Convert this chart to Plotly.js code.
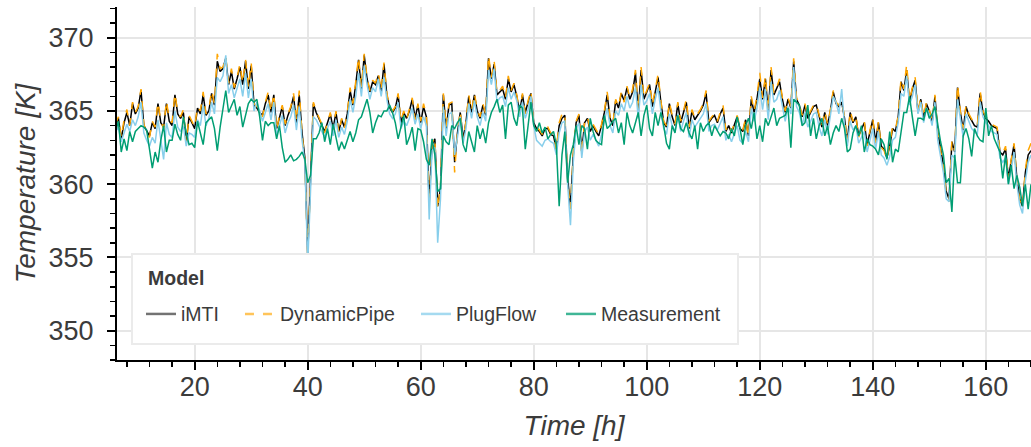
<!DOCTYPE html>
<html>
<head>
<meta charset="utf-8">
<script src="https://cdn.plot.ly/plotly-3.0.1.min.js"></script>
<style>html,body{margin:0;padding:0;background:#fff;}#chart{width:1031px;height:447px;}</style>
</head>
<body>
<div id="chart"></div>
<script>
// Time axis: half-hourly samples starting at 6 h
const tStart = 6.0;
const tStep = 0.5;

const seriesNames = ['iMTI', 'DynamicPipe', 'PlugFlow', 'Measurement'];

const iMTI = [
364.0,364.5,363.1,364.2,364.9,364.0,365.5,364.8,365.2,366.4,
364.0,363.6,363.3,364.2,363.8,365.5,364.2,363.9,365.5,364.3,
364.0,366.1,364.8,364.5,364.9,362.9,364.6,364.2,363.8,365.2,
364.8,366.1,364.7,365.0,366.2,365.4,368.4,367.7,367.9,368.6,
366.8,367.7,366.5,367.2,368.0,366.8,368.4,366.5,368.1,365.4,
365.2,364.9,364.7,365.5,366.1,364.9,366.1,363.8,364.6,365.3,
364.0,364.7,365.2,366.0,364.2,366.1,363.5,361.8,355.2,360.4,
365.5,364.9,364.5,364.0,363.6,364.2,364.8,363.8,364.9,363.6,
364.4,363.9,364.8,366.4,365.4,366.8,368.5,366.5,368.8,367.2,
366.3,367.0,366.8,367.4,366.3,368.2,366.1,365.2,364.9,365.2,
366.1,364.2,364.9,364.5,365.0,365.8,364.5,365.4,364.2,365.3,
364.6,358.8,362.7,363.1,358.5,359.7,366.1,363.8,365.4,365.5,
361.5,363.5,364.9,363.1,364.2,366.0,364.9,366.1,365.0,364.5,
365.4,364.7,368.6,367.2,368.2,366.1,366.3,366.5,365.8,367.2,
366.3,366.8,366.0,364.9,366.1,364.9,365.6,366.2,364.2,363.8,
363.6,363.3,363.8,363.8,363.4,363.3,362.4,364.0,364.5,364.7,
360.4,358.5,362.0,364.2,364.7,362.2,364.2,364.5,363.6,364.0,
363.6,363.3,364.0,364.9,366.1,364.5,364.0,365.7,365.2,366.2,
365.7,366.6,365.8,366.3,367.6,364.9,367.8,365.8,366.3,366.8,
365.3,366.3,367.3,365.6,364.2,363.9,365.5,364.6,364.0,365.5,
364.2,364.9,365.6,363.8,365.0,364.4,364.7,365.0,365.4,366.2,
364.2,364.5,364.7,364.2,364.8,365.2,363.6,364.0,363.5,364.1,
364.6,363.8,363.6,364.4,363.3,365.8,364.9,365.8,367.2,365.8,
367.2,364.9,367.8,366.1,366.5,367.0,365.8,364.9,365.8,365.2,
368.4,365.8,365.4,364.6,365.4,364.5,364.9,365.3,365.4,364.6,
363.9,364.9,364.0,365.0,366.3,365.5,365.3,365.6,364.5,362.9,
364.9,364.2,364.6,363.3,363.8,364.2,362.7,363.6,364.4,362.9,
364.2,362.6,362.4,361.8,362.6,363.8,363.6,364.6,367.0,366.4,
367.8,365.6,366.5,367.1,364.9,365.8,364.5,365.5,365.0,364.2,
366.0,363.6,362.4,361.3,359.5,359.0,362.9,362.2,366.6,364.9,
363.7,365.3,364.7,364.3,364.0,363.9,366.2,364.9,364.5,364.3,
364.0,363.9,363.8,362.2,362.0,362.4,360.4,361.6,362.7,360.4,
359.0,358.5,360.8,362.0,362.3
];

const dynamicPipe = [
364.1,364.6,363.2,364.4,365.1,364.0,365.6,364.9,365.3,366.5,
364.1,363.5,363.2,364.3,363.9,365.6,364.3,363.8,365.7,364.4,
364.2,366.2,364.9,364.6,365.1,362.8,364.7,364.3,363.9,365.3,
365.0,366.3,364.8,365.1,366.4,365.5,368.9,367.9,368.0,368.7,
366.9,367.9,366.6,367.3,368.2,366.9,368.5,366.6,368.3,365.5,
365.3,364.8,364.6,365.6,366.3,364.9,366.2,363.7,364.7,365.4,
364.1,364.8,365.3,366.2,364.3,366.4,363.4,361.6,355.0,360.3,
365.6,365.0,364.6,364.1,363.5,364.3,364.9,363.7,365.0,363.5,
364.5,363.8,364.9,366.6,365.5,367.0,368.7,366.6,368.9,367.3,
366.4,367.1,366.9,367.6,366.4,368.3,366.2,365.3,365.0,365.3,
366.2,364.3,365.0,364.4,365.1,365.9,364.4,365.5,364.3,365.5,
364.7,358.6,362.8,363.2,358.3,359.8,366.2,363.9,365.5,365.6,
360.8,363.6,365.0,363.0,364.3,366.1,365.0,366.2,365.1,364.6,
365.5,364.8,368.8,367.3,368.4,366.2,366.4,366.7,365.9,367.4,
366.4,366.9,366.1,364.8,366.2,364.8,365.7,366.4,364.1,363.9,
363.7,363.4,363.9,363.9,363.5,363.4,362.3,364.2,364.8,364.9,
360.2,358.3,362.1,364.3,364.8,362.0,364.3,364.6,363.7,364.1,
363.7,363.4,364.1,365.0,366.3,364.6,364.1,365.8,365.3,366.3,
365.6,366.7,365.9,366.5,367.8,365.0,368.0,365.9,366.4,366.9,
365.4,366.4,367.5,365.7,364.3,364.0,365.6,364.7,364.1,365.6,
364.3,365.0,365.8,363.9,365.1,364.5,364.8,365.1,365.5,366.4,
364.3,364.6,364.8,364.3,364.9,365.4,363.7,364.1,363.6,364.2,
364.7,363.9,363.7,364.5,363.2,366.0,365.0,366.0,367.6,365.9,
367.4,365.0,368.0,366.2,366.6,367.2,365.9,365.0,365.9,365.3,
368.6,365.9,365.5,364.7,365.5,364.6,365.0,365.4,365.5,364.7,
364.0,365.0,364.1,365.1,366.4,365.6,365.4,365.7,364.6,362.8,
365.0,364.3,364.7,363.2,363.9,364.3,362.6,363.7,364.5,362.8,
364.3,362.5,362.3,361.7,362.7,363.9,363.7,364.7,367.2,366.5,
368.2,365.7,366.6,367.3,365.0,365.9,364.6,365.6,365.1,364.3,
366.1,363.5,362.3,361.2,359.3,358.8,363.0,362.3,366.8,365.0,
363.8,365.4,364.8,364.4,364.1,364.0,366.4,365.0,364.6,364.4,
364.1,364.0,363.9,362.3,362.1,362.6,360.3,361.7,362.8,360.3,
358.9,358.4,361.0,362.3,362.8
];

const plugFlow = [
363.6,363.9,362.9,363.5,364.1,363.6,364.4,364.0,364.6,365.6,
363.5,363.0,362.6,363.2,362.8,364.4,363.0,361.7,364.2,363.4,
363.2,365.0,363.9,363.6,364.0,362.6,363.5,363.4,363.2,364.4,
364.0,365.4,364.0,364.5,365.6,364.8,367.3,367.0,367.4,368.8,
366.2,366.8,365.9,366.5,367.2,366.0,367.6,365.9,367.2,365.0,
365.6,365.0,364.3,364.9,365.5,364.4,365.6,363.3,364.0,364.7,
363.5,364.2,364.6,365.4,363.7,365.3,363.0,361.5,354.5,360.0,
364.6,364.4,364.0,363.5,363.2,363.8,364.3,363.3,364.4,363.2,
363.9,363.4,364.3,365.8,364.9,366.0,367.6,366.0,368.1,366.8,
365.8,366.6,366.3,367.2,366.0,367.3,365.8,364.8,364.5,364.8,
365.6,363.8,364.3,364.0,364.5,365.2,364.1,364.8,363.8,364.6,
364.0,357.6,362.3,362.5,356.0,359.0,365.3,363.3,364.8,364.9,
362.0,363.2,364.6,362.8,363.8,365.5,364.5,365.7,364.6,364.0,
364.9,364.3,367.8,366.8,367.9,365.6,365.9,366.0,365.3,366.6,
365.8,366.3,365.7,364.6,365.6,364.5,365.1,366.0,364.0,363.0,
362.8,362.6,363.0,363.1,362.9,362.8,362.0,363.5,364.2,364.3,
360.0,357.2,361.5,363.8,364.2,361.8,363.6,363.9,363.0,363.4,
363.0,362.6,363.4,364.3,365.2,364.0,363.5,365.0,364.7,365.5,
365.0,366.0,365.2,365.6,366.6,364.5,366.8,365.4,365.7,366.2,
364.8,365.8,366.6,365.0,363.8,363.4,364.8,364.0,363.6,364.8,
363.6,364.3,364.9,363.2,364.4,363.9,364.2,364.5,364.8,365.5,
363.6,364.0,364.1,363.7,364.2,364.6,363.0,363.4,362.9,363.5,
364.0,363.0,362.8,363.6,362.9,365.2,364.3,365.2,366.6,365.1,
366.5,364.4,367.0,365.6,365.8,366.4,365.2,364.3,365.3,364.8,
368.0,365.3,364.9,364.0,364.9,363.9,364.3,364.8,364.9,363.9,
363.3,364.4,363.4,364.6,366.0,365.6,364.8,366.5,364.0,362.6,
364.3,363.7,364.0,362.8,363.2,363.6,362.2,363.0,363.8,362.4,
363.6,362.0,361.8,361.3,361.9,363.0,363.2,364.2,366.2,366.0,
367.4,365.4,366.0,366.8,364.8,365.6,364.2,365.2,364.8,364.0,
365.6,363.0,361.8,360.8,359.0,358.8,362.0,361.8,365.8,364.5,
363.2,364.8,364.3,363.8,363.6,363.4,365.6,364.6,364.2,364.0,
363.6,363.5,363.4,361.8,361.5,361.8,360.0,361.0,362.2,360.0,
358.6,358.0,360.2,361.5,362.0
];

const measurement = [
363.6,364.3,362.2,363.1,362.3,363.6,362.9,363.6,363.8,364.0,
363.9,363.7,362.4,361.1,362.2,361.5,363.0,364.0,362.2,363.0,
363.0,364.1,363.4,363.0,364.6,363.5,362.7,362.8,362.5,364.3,
363.5,362.7,364.2,364.4,364.6,363.8,362.3,363.9,365.0,366.4,
364.9,365.4,365.8,364.7,365.3,363.9,364.8,365.5,365.8,365.6,
365.8,364.6,363.0,364.3,364.0,364.2,364.2,363.1,364.0,362.5,
361.5,361.7,362.0,361.6,361.7,361.9,362.2,361.7,360.1,360.6,
363.1,363.1,363.5,364.2,362.9,363.8,362.7,364.1,363.2,362.3,
362.9,362.4,363.0,363.6,362.9,363.5,364.4,364.6,365.2,365.8,
364.9,363.5,364.2,364.7,364.6,365.0,365.0,365.4,364.9,364.2,
363.1,364.0,364.7,362.7,363.2,363.9,362.3,363.8,363.7,362.9,
361.7,361.3,363.1,362.0,359.5,359.7,363.3,362.9,362.7,364.0,
363.8,364.2,364.5,362.7,362.2,363.6,362.8,362.2,364.0,363.1,
363.8,362.8,364.2,364.9,365.3,365.8,364.9,365.4,363.1,365.4,
365.6,364.5,364.0,365.4,365.2,362.4,364.0,365.6,364.0,363.6,
364.2,363.5,363.9,363.1,363.4,363.6,362.7,358.5,362.0,363.6,
360.1,362.0,362.7,364.0,362.7,364.0,363.8,362.4,364.5,363.6,
363.0,362.8,362.7,364.7,363.8,364.0,364.3,364.5,363.5,364.2,
362.7,364.9,364.0,363.5,364.2,364.9,363.3,364.7,365.4,363.8,
363.3,364.9,364.0,364.9,364.0,362.8,362.4,364.0,363.5,364.7,
363.8,363.6,364.2,363.5,363.1,364.0,362.4,364.2,363.6,364.0,
364.2,363.3,364.0,363.6,363.3,363.6,363.5,363.1,363.8,363.3,
364.6,363.8,362.7,364.0,364.5,363.8,364.9,363.1,364.0,362.9,
364.5,364.0,364.6,365.2,364.0,364.5,364.6,364.7,365.2,362.5,
365.8,365.6,365.4,364.0,364.2,365.4,363.3,364.5,363.1,364.0,
364.5,363.3,364.0,362.7,363.5,364.0,363.6,364.5,363.8,362.2,
362.4,363.5,364.0,363.3,364.0,362.2,363.1,362.7,362.6,362.4,
362.0,363.1,362.7,361.7,363.6,361.5,362.4,362.2,363.6,364.9,
364.9,366.0,364.6,363.3,364.5,364.5,364.4,365.2,364.5,364.8,
365.3,364.0,362.9,362.0,360.1,360.4,358.1,362.0,360.1,360.1,
363.3,363.8,363.1,361.9,363.8,363.3,363.0,362.9,365.2,363.3,
364.0,363.1,362.6,362.2,360.4,362.0,360.0,361.3,359.7,360.6,
359.8,358.5,360.0,358.3,360.0
];

const xTicks = [20, 40, 60, 80, 100, 120, 140, 160];
const yTicks = [350, 355, 360, 365, 370];

const lineColors = ['#000000', '#FFA500', '#87CEEB', '#009E73'];
const legendColors = ['rgba(0,0,0,0.55)', 'rgba(255,165,0,0.65)', 'rgba(135,206,235,0.75)', 'rgba(0,158,115,0.75)'];
const lineDash = ['solid', 'dash', 'solid', 'solid'];

function timesFor(arr) { return arr.map((_, i) => tStart + tStep * i); }

const allSeries = [iMTI, dynamicPipe, plugFlow, measurement];
const legendWidths = [46, 123, 92, 131];

const traces = [];
allSeries.forEach((vals, k) => {
  traces.push({
    type: 'scatter', mode: 'lines', x: timesFor(vals), y: vals,
    name: seriesNames[k], showlegend: false, hoverinfo: 'skip',
    line: {color: lineColors[k], width: 1.5, dash: lineDash[k]}
  });
});
// legend entries
seriesNames.forEach((nm, k) => {
  traces.push({
    type: 'scatter', mode: 'lines', x: [null], y: [null],
    name: '<span style="font-size:19.5px;baseline-shift:6.5px">' + nm + '</span>',
    showlegend: true, legendwidth: legendWidths[k],
    line: {color: legendColors[k], width: 2.5, dash: lineDash[k]}
  });
});

const axisCommon = {
  ticks: 'outside', ticklen: 8, tickwidth: 2, tickcolor: '#000',
  showline: true, linecolor: '#000', linewidth: 2, mirror: false,
  showgrid: true, gridcolor: '#e6e6e6', gridwidth: 2, zeroline: false,
  tickfont: {size: 27, color: '#3b3b3b'},
  tickmode: 'array'
};

const layout = {
  width: 1031, height: 447,
  margin: {l: 117, r: 0, t: 7, b: 87, pad: 0},
  paper_bgcolor: '#fff', plot_bgcolor: '#fff',
  font: {family: 'Liberation Sans, Arial, sans-serif', color: '#3b3b3b'},
  showlegend: true,
  xaxis: Object.assign({}, axisCommon, {
    range: [6.25, 168], tickvals: xTicks, ticktext: xTicks.map(String),
    ticklabelstandoff: -6,
    minor: {tickmode: 'linear', tick0: 0, dtick: 4, ticks: 'outside', ticklen: 5, tickwidth: 1.5, tickcolor: '#000', showgrid: false},
    title: {text: 'Time [h]', font: {size: 28, style: 'italic', color: '#3b3b3b'}, standoff: 14}
  }),
  yaxis: Object.assign({}, axisCommon, {
    range: [348, 372.1], tickvals: yTicks, ticktext: yTicks.map(String),
    ticklabelstandoff: 8,
    minor: {tickmode: 'linear', tick0: 0, dtick: 1, ticks: 'outside', ticklen: 5, tickwidth: 1.5, tickcolor: '#000', showgrid: false},
    title: {text: 'Temperature [K]', font: {size: 28, style: 'italic', color: '#3b3b3b'}, standoff: 5}
  }),
  legend: {
    orientation: 'h', x: 0.0153, y: 0.303, xanchor: 'left', yanchor: 'top',
    bgcolor: '#fff', bordercolor: '#ebebeb', borderwidth: 2,
    indentation: 8,
    font: {size: 34.6, color: '#3b3b3b'},
    title: {text: '<span style="font-size:23.4px">&nbsp;&nbsp;</span><span style="font-size:19.5px"><b>Model</b></span>', side: 'top', font: {size: 23, color: '#3b3b3b'}}
  }
};

Plotly.newPlot('chart', traces, layout, {staticPlot: true, displayModeBar: false});
</script>
</body>
</html>
